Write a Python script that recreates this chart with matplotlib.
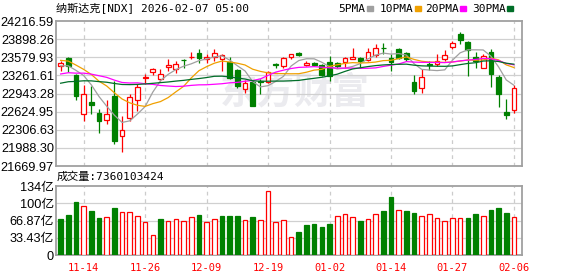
import matplotlib
matplotlib.use("Agg")
import matplotlib.pyplot as plt
from matplotlib.patches import Rectangle
import numpy as np
import pandas as pd

# trading days shown
dates = ["11-11", "11-12", "11-13", "11-14", "11-17", "11-18", "11-19", "11-20", "11-21", "11-24",
         "11-25", "11-26", "11-28", "12-01", "12-02", "12-03", "12-04", "12-05", "12-08", "12-09",
         "12-10", "12-11", "12-12", "12-15", "12-16", "12-17", "12-18", "12-19", "12-22", "12-23",
         "12-24", "12-26", "12-29", "12-30", "12-31", "01-02", "01-05", "01-06", "01-07", "01-08",
         "01-09", "01-12", "01-13", "01-14", "01-15", "01-16", "01-20", "01-21", "01-22", "01-23",
         "01-26", "01-27", "01-28", "01-29", "01-30", "02-02", "02-03", "02-04", "02-05", "02-06"]

opens = [23425, 23572, 23267, 22576, 22798, 22593, 22482, 22898, 22195, 22517,
         22822, 23209, 23326, 23203, 23408, 23367, 23537, 23578, 23660, 23554,
         23584, 23543, 23496, 23349, 23015, 23144, 23162, 23144, 23461, 23425,
         23584, 23660, 23443, 23484, 23443, 23496, 23472, 23496, 23554, 23566,
         23525, 23619, 23748, 23572, 23718, 23660, 23150, 23045, 23461, 23467,
         23554, 23765, 23982, 23853, 23590, 23396, 23677, 23238, 22623, 22646]
highs = [23513, 23584, 23291, 23086, 23074, 22664, 22834, 23162, 22546, 22927,
         23103, 23291, 23396, 23367, 23543, 23513, 23543, 23677, 23718, 23631,
         23718, 23631, 23584, 23367, 23173, 23173, 23191, 23337, 23484, 23584,
         23643, 23677, 23513, 23496, 23467, 23601, 23496, 23584, 23736, 23584,
         23736, 23818, 23836, 23642, 23736, 23677, 23261, 23380, 23513, 23631,
         23701, 23865, 24023, 23865, 23677, 23643, 23718, 23261, 22851, 23091]
lows = [23337, 23326, 22822, 22459, 22576, 22254, 22400, 22060, 21920, 22459,
        22634, 23103, 23267, 23162, 23337, 23308, 23396, 23543, 23484, 23484,
        23513, 23337, 23191, 23033, 22945, 22715, 22939, 23132, 23384, 23396,
        23543, 23601, 23425, 23425, 23250, 23162, 23396, 23396, 23543, 23396,
        23513, 23584, 23642, 23337, 23543, 23513, 22939, 22945, 23349, 23425,
        23513, 23718, 23806, 23250, 23396, 23384, 23056, 22704, 22488, 22605]
closes = [23484, 23425, 22898, 22927, 22740, 22459, 22576, 22107, 22294, 22880,
          23056, 23232, 23379, 23291, 23443, 23467, 23531, 23590, 23566, 23590,
          23660, 23613, 23220, 23074, 23132, 22722, 23150, 23326, 23449, 23572,
          23635, 23628, 23484, 23443, 23267, 23250, 23425, 23560, 23590, 23513,
          23677, 23748, 23736, 23502, 23560, 23548, 22986, 23238, 23443, 23513,
          23613, 23836, 23883, 23707, 23513, 23601, 23291, 22939, 22564, 23045]
# closes before the window, needed for the moving averages at the left edge
prior_closes = [22650, 22720, 22610, 22780, 22850, 22900, 22760, 22830, 22950, 22950,
                22980, 23050, 22920, 23100, 23010, 23150, 23080, 23120, 23060, 23000,
                23550, 23600, 23680, 23640, 23636, 23420, 23300, 23380, 23560]
# volume in 亿
volumes = [70.4, 78.3, 101.8, 95.2, 86.1, 72.4, 73.7, 92.0, 83.5, 83.5,
           75.7, 63.9, 38.5, 70.4, 65.9, 69.8, 65.9, 73.7, 78.3, 63.9,
           69.8, 76.4, 76.4, 76.4, 67.8, 74.4, 67.8, 124.0, 63.9, 67.8,
           34.6, 45.0, 58.7, 60.7, 53.5, 60.7, 75.7, 79.6, 73.7, 66.5,
           70.4, 79.6, 86.1, 111.5, 88.1, 86.1, 82.2, 75.7, 79.6, 72.4,
           65.9, 72.4, 72.4, 72.4, 80.2, 75.7, 88.1, 92.0, 82.2, 73.60]

price_ticks = [21669.97, 21988.30, 22306.63, 22624.95, 22943.28, 23261.61, 23579.93, 23898.26, 24216.59]
vol_ticks = [0, 33.43, 66.87, 100.30, 133.74]
vol_labels = ["0", "33.43亿", "66.87亿", "100亿", "134亿"]
tick_dates = ["11-14", "11-26", "12-09", "12-19", "01-02", "01-14", "01-27", "02-06"]

ma_periods = [5, 10, 20, 30]
ma_colors = ["#a0a0a0", "#f0a000", "#ff00ff", "#006e28"]

RED = "#ff0000"
GREEN = "#008000"
num_font = ["Liberation Sans", "Noto Sans CJK SC"]
mono_font = ["DejaVu Sans Mono", "Noto Sans CJK SC"]

o = np.array(opens, float)
h = np.array(highs, float)
l = np.array(lows, float)
c = np.array(closes, float)
x = np.arange(len(c))

fig = plt.figure(figsize=(5.78, 2.76), dpi=100)
ax = fig.add_axes([56 / 578, 1 - 166 / 276, 466 / 578, 145 / 276])
axv = fig.add_axes([56 / 578, 1 - 255 / 276, 466 / 578, 69 / 276])

tick_idx = [dates.index(d) for d in tick_dates]

for a in (ax, axv):
    a.set_xlim(-0.6, 60.05)
    a.set_xticks(tick_idx)
    a.tick_params(length=0)
    for s in a.spines.values():
        s.set_color("#a0a0a0")
        s.set_linewidth(1.3)
    for t in tick_idx:
        a.axvline(t, color="#cccccc", lw=0.9, ls=(0, (3, 3)), zorder=1)

# watermark
ax.text(30.5, 22960, "东方财富", fontsize=27, color="#ebebef", fontweight="bold",
        family="Noto Sans CJK SC", ha="center", va="center", zorder=0)

# price panel
ax.set_ylim(price_ticks[0], price_ticks[-1])
ax.set_yticks(price_ticks)
ax.set_yticklabels(["%.2f" % p for p in price_ticks], family=num_font, fontsize=9.2)
for p in price_ticks[1:-1]:
    ax.axhline(p, color="#d0d0d0", lw=0.9, zorder=1)
ax.set_xticklabels([])

up = c >= o
cols = np.where(up, RED, GREEN)
ax.vlines(x, l, h, colors=cols, lw=0.9, zorder=2)
body = np.maximum(np.abs(c - o), 8)
ax.bar(x, body, bottom=np.minimum(o, c), width=0.62, color=np.where(up, "white", GREEN),
       edgecolor=cols, linewidth=0.9, zorder=3)

all_close = pd.Series(prior_closes + closes)
n0 = len(prior_closes)
for per, col in zip(ma_periods, ma_colors):
    ma = all_close.rolling(per).mean().values[n0:]
    ax.plot(x, ma, color=col, lw=0.9, zorder=4)

# volume panel
prev = np.concatenate([[prior_closes[-1]], c[:-1]])
vup = c >= prev
vcols = np.where(vup, RED, GREEN)
axv.set_ylim(0, vol_ticks[-1])
axv.set_yticks(vol_ticks)
axv.set_yticklabels(vol_labels, family=num_font, fontsize=9.2)
for v in vol_ticks[1:-1]:
    axv.axhline(v, color="#d0d0d0", lw=0.9, zorder=1)
axv.bar(x, volumes, width=0.6, color=np.where(vup, "white", GREEN), edgecolor=vcols,
        linewidth=0.9, zorder=3)
axv.set_xticklabels(tick_dates, family=mono_font, fontsize=7.5, color=RED)
axv.tick_params(axis="x", pad=6)
axv.tick_params(axis="y", pad=1.5)
ax.tick_params(axis="y", pad=1.5)

# texts
fig.text(56 / 578, 1 - 9 / 276, "纳斯达克[NDX] 2026-02-07 05:00", family=mono_font,
         fontsize=8, va="center", ha="left")
fig.text(57 / 578, 1 - 177 / 276, "成交量:7360103424", family=mono_font,
         fontsize=8, va="center", ha="left")

legend_x = [338, 380, 425, 472]
for (per, col, lx) in zip(ma_periods, ma_colors, legend_x):
    lab = "%dPMA" % per
    fig.text(lx / 578, 1 - 9 / 276, lab, family=mono_font, fontsize=8, va="center", ha="left")
    sx = lx + len(lab) * 6.4 + 3
    fig.add_artist(Rectangle((sx / 578, 1 - 11 / 276), 6 / 578, 5 / 276,
                             transform=fig.transFigure, color=col))

fig.savefig("out.png", dpi=100)
